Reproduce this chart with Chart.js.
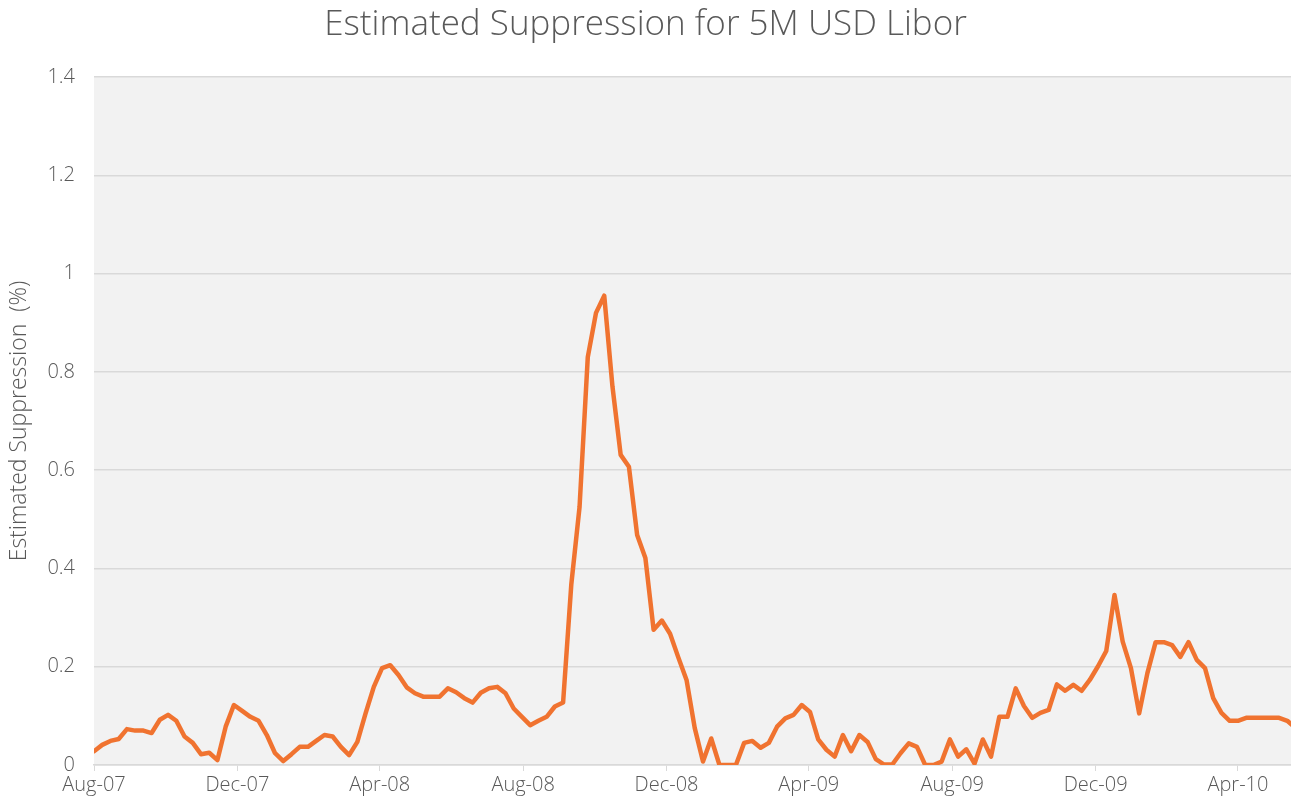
<!DOCTYPE html>
<html>
<head>
<meta charset="utf-8">
<title>Estimated Suppression for 5M USD Libor</title>
<script src="https://cdn.jsdelivr.net/npm/chart.js@4.4.1/dist/chart.umd.min.js"></script>
<style>
    html, body { margin: 0; padding: 0; background: #ffffff; }
    #wrap { width: 1291px; height: 805px; }
</style>
</head>
<body>
<div id="wrap"><canvas id="supresionChart" width="1291" height="805"></canvas></div>
<script>
// Valores semanales (%), empezando la primera semana de agosto 2007
const supresion = [
    0.028, 0.041, 0.049, 0.053, 0.073, 0.070, 0.070, 0.065, 0.092, 0.102,
    0.090, 0.058, 0.045, 0.022, 0.025, 0.010, 0.078, 0.122, 0.110, 0.098,
    0.090, 0.061, 0.024, 0.008, 0.022, 0.037, 0.037, 0.049, 0.061, 0.058,
    0.037, 0.020, 0.047, 0.105, 0.159, 0.197, 0.203, 0.183, 0.158, 0.146,
    0.139, 0.139, 0.139, 0.156, 0.148, 0.136, 0.127, 0.147, 0.156, 0.159,
    0.146, 0.115, 0.098, 0.081, 0.090, 0.098, 0.119, 0.127, 0.368, 0.525,
    0.830, 0.920, 0.955, 0.770, 0.631, 0.607, 0.468, 0.421, 0.275, 0.294,
    0.267, 0.219, 0.173, 0.075, 0.007, 0.054, 0.000, 0.000, 0.000, 0.045,
    0.049, 0.035, 0.045, 0.078, 0.095, 0.102, 0.122, 0.108, 0.052, 0.031,
    0.017, 0.061, 0.028, 0.061, 0.047, 0.012, 0.001, 0.001, 0.024, 0.044,
    0.037, 0.000, 0.000, 0.007, 0.052, 0.017, 0.032, 0.003, 0.052, 0.017,
    0.098, 0.098, 0.156, 0.120, 0.096, 0.106, 0.112, 0.164, 0.151, 0.163,
    0.151, 0.173, 0.201, 0.232, 0.346, 0.251, 0.197, 0.105, 0.187, 0.250,
    0.250, 0.244, 0.220, 0.250, 0.214, 0.197, 0.136, 0.106, 0.090, 0.090,
    0.096, 0.096, 0.096, 0.096, 0.096, 0.090, 0.075
];

// Etiquetas del eje X y su posicion en dias desde 1-ago-2007
const etiquetasX = ['Aug-07', 'Dec-07', 'Apr-08', 'Aug-08', 'Dec-08', 'Apr-09', 'Aug-09', 'Dec-09', 'Apr-10'];
const diasEtiquetas = [0, 122, 243, 365, 487, 608, 730, 852, 973];

// Eje Y
const ticksY = [0, 0.2, 0.4, 0.6, 0.8, 1, 1.2, 1.4];
const etiquetasY = ['0', '0.2', '0.4', '0.6', '0.8', '1', '1.2', '1.4'];

const fuente = "'Open Sans', 'Lato', sans-serif";
const gris = '#595959';

// Fondo gris del area de trazado
const fondoArea = {
    id: 'fondoArea',
    beforeDraw(chart) {
        const { ctx, chartArea: a } = chart;
        ctx.save();
        ctx.fillStyle = '#f2f2f2';
        ctx.fillRect(a.left, a.top, a.right - a.left, a.bottom - a.top);
        ctx.restore();
    }
};

function renderGrafica() {
    const ctx = document.getElementById('supresionChart').getContext('2d');
    new Chart(ctx, {
        type: 'line',
        data: {
            datasets: [{
                label: 'Estimated Suppression',
                data: supresion.map((v, i) => ({ x: i, y: v })),
                borderColor: '#f07330',
                borderWidth: 4.5,
                borderJoinStyle: 'round',
                borderCapStyle: 'round',
                pointRadius: 0,
                tension: 0,
                fill: false
            }]
        },
        options: {
            responsive: false,
            animation: false,
            layout: { padding: 0 },
            plugins: {
                legend: { display: false },
                tooltip: { enabled: false },
                title: {
                    display: true,
                    text: 'Estimated Suppression for 5M USD Libor',
                    color: gris,
                    font: { family: fuente, size: 35, weight: '300' },
                    padding: { top: 4, bottom: 31 }
                }
            },
            scales: {
                x: {
                    type: 'linear',
                    min: 0,
                    max: 145.45,
                    afterBuildTicks: scale => {
                        scale.ticks = diasEtiquetas.map(d => ({ value: d / 7 }));
                    },
                    afterFit: scale => { scale.height = 40; },
                    ticks: {
                        autoSkip: false,
                        maxRotation: 0,
                        padding: 2,
                        color: gris,
                        font: { family: fuente, size: 20, weight: '300' },
                        callback: (v, i) => etiquetasX[i]
                    },
                    grid: {
                        drawOnChartArea: false,
                        drawTicks: true,
                        tickLength: 6,
                        color: '#d9d9d9'
                    },
                    border: { color: '#d9d9d9', width: 1.5 }
                },
                y: {
                    min: 0,
                    max: 1.4,
                    afterBuildTicks: scale => {
                        scale.ticks = ticksY.map(v => ({ value: v }));
                    },
                    afterFit: scale => { scale.width = 94; },
                    ticks: {
                        padding: 19,
                        color: gris,
                        font: { family: fuente, size: 20, weight: '300' },
                        callback: (v, i) => etiquetasY[i]
                    },
                    grid: {
                        drawTicks: false,
                        color: '#d9d9d9',
                        lineWidth: 1.5
                    },
                    border: { display: false },
                    title: {
                        display: true,
                        text: 'Estimated Suppression  (%)',
                        color: gris,
                        font: { family: fuente, size: 23, weight: '300' },
                        padding: { top: 6, bottom: 0 }
                    }
                }
            }
        },
        plugins: [fondoArea]
    });
}

renderGrafica();
</script>
</body>
</html>
